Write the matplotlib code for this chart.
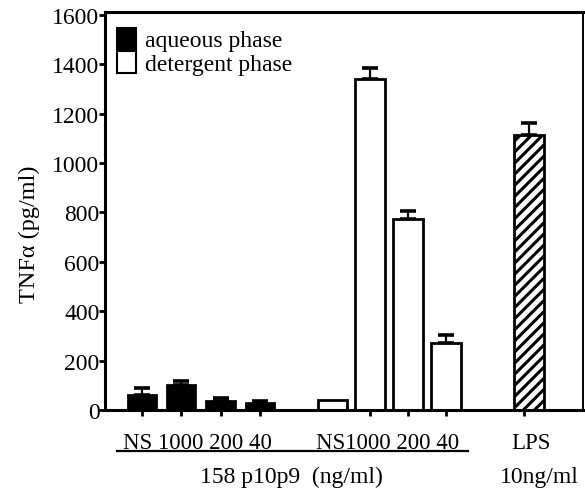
import numpy as np
import matplotlib
matplotlib.use("Agg")
from matplotlib import pyplot as plt
from matplotlib.patches import Patch

plt.rcParams['font.family'] = ['Liberation Serif', 'DejaVu Serif']
plt.rcParams['hatch.linewidth'] = 2.2

# data
aq_labels = ["NS", "1000", "200", "40"]
aq_values = [62, 101, 35, 27]
aq_errors = [27, 16, 14, 11]

det_labels = ["NS", "1000", "200", "40"]
det_values = [40, 1340, 773, 270]
det_errors = [0, 45, 34, 34]

lps_label = "LPS"
lps_value = [1114]
lps_error = [48]

y_ticks = [0, 200, 400, 600, 800, 1000, 1200, 1400, 1600]

# bar positions (slot units)
aq_x = np.arange(4)
det_x = 4.85 + np.arange(4) * 0.96
lps_x = np.array([9.85])
width = 0.72

fig = plt.figure(figsize=(5.85, 4.89), dpi=100)
ax = fig.add_axes([0.1795, 0.1595, 0.817, 0.814])

err_kw = dict(fmt="none", ecolor="black", elinewidth=1.6, capsize=6, capthick=2.6, zorder=1)

ax.bar(aq_x, aq_values, width=width, color="black", edgecolor="black", linewidth=2, zorder=2)
ax.errorbar(aq_x, aq_values, yerr=[np.zeros(4), aq_errors], **err_kw)

ax.bar(det_x, det_values, width=width * 1.05, color="white", edgecolor="black", linewidth=2, zorder=2)
ax.errorbar(det_x[1:], det_values[1:], yerr=[np.zeros(3), det_errors[1:]], **err_kw)

ax.bar(lps_x, lps_value, width=width * 1.05, color="white", edgecolor="black",
       hatch="///", linewidth=2, zorder=2)
ax.errorbar(lps_x, lps_value, yerr=[[0], lps_error], **err_kw)

ax.set_xlim(-0.94, 11.22)
ax.set_ylim(0, 1612)
ax.set_yticks(y_ticks)
ax.set_yticklabels([str(t) for t in y_ticks], fontsize=17)
ax.tick_params(axis="y", direction="out", length=4, width=2, pad=0)

tick_pos = list(aq_x) + list(det_x[1:]) + [lps_x[0] - 0.12]
ax.set_xticks(tick_pos)
ax.set_xticklabels([])
ax.tick_params(axis="x", direction="out", length=4, width=2)

for s in ax.spines.values():
    s.set_linewidth(2.2)
ax.spines['right'].set_linewidth(1.4)

ax.set_ylabel("TNFα (pg/ml)", fontsize=17.5, labelpad=9)
ax.yaxis.label.set_y(0.445)

# category labels under each group, written as one line like the original
lab_y = -0.082
trans = ax.get_xaxis_transform()
ax.text(aq_x.mean() - 0.09, lab_y, " ".join(aq_labels), transform=trans,
        ha="center", va="center", fontsize=16.5)
ax.text(det_x.mean() - 0.03, lab_y, det_labels[0] + " ".join(det_labels[1:]), transform=trans,
        ha="center", va="center", fontsize=16.5)
ax.text(lps_x[0] + 0.05, lab_y, lps_label, transform=trans, ha="center", va="center", fontsize=16.5)

ax.plot([-0.63, 8.3], [-0.104, -0.104], transform=trans, color="black", lw=1.6, clip_on=False)
ax.text(3.8, -0.168, "158 p10p9  (ng/ml)", transform=trans, ha="center", va="center", fontsize=17)
ax.text(10.1, -0.168, "10ng/ml", transform=trans, ha="center", va="center", fontsize=17)

handles = [Patch(facecolor="black", edgecolor="black", linewidth=1.5),
           Patch(facecolor="white", edgecolor="black", linewidth=1.5)]
ax.legend(handles, ["aqueous phase", "detergent phase"], loc="upper left",
          bbox_to_anchor=(0, 0.99), frameon=False, fontsize=17, handlelength=0.8,
          handleheight=1.0, handletextpad=0.4, labelspacing=0.0,
          borderaxespad=0.3, borderpad=0.2)

fig.savefig("out.png", dpi=100)
